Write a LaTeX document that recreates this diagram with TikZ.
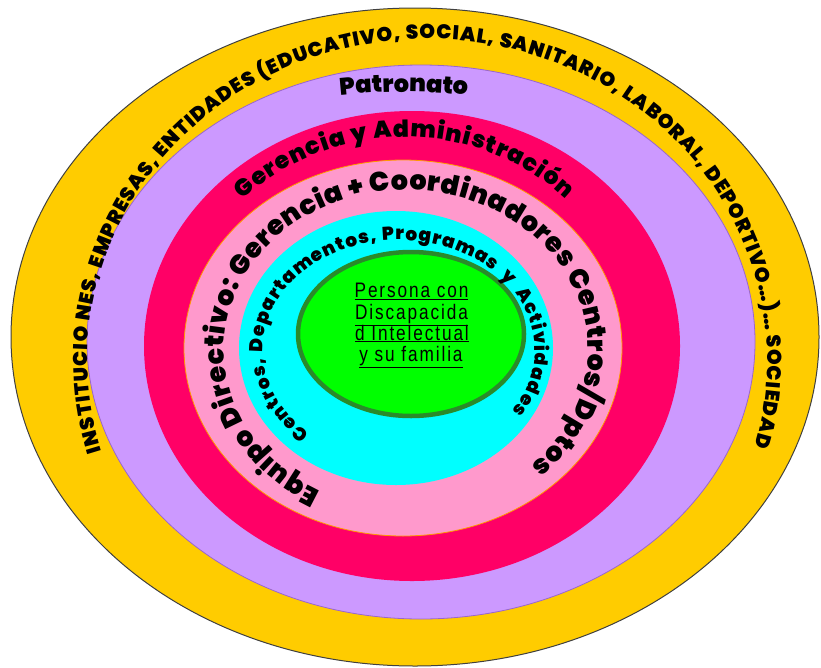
\documentclass[tikz,border=0pt]{standalone}
\usepackage{fontspec}
\usetikzlibrary{decorations.text}
\IfFontExistsTF{Poppins Black}
  {\newfontface\arcfont{Poppins Black}}
  {\IfFontExistsTF{Fira Sans Heavy}
     {\newfontface\arcfont{Fira Sans Heavy}}
     {\newfontface\arcfont{DejaVu Sans Bold}}}
\newfontfamily\narrowfont{Liberation Sans}[FakeStretch=0.82, LetterSpace=9]
\definecolor{cyellow}{HTML}{FFCC00}
\definecolor{cpurple}{HTML}{CC99FF}
\definecolor{cpurpleline}{HTML}{9966CC}
\definecolor{cred}{HTML}{FF0066}
\definecolor{cpink}{HTML}{FF99CC}
\definecolor{corange}{HTML}{FF9900}
\definecolor{ccyan}{HTML}{00FFFF}
\definecolor{cgreen}{HTML}{00FF00}
\definecolor{cgreenline}{HTML}{2A8A2A}
\begin{document}
\begin{tikzpicture}[x=1pt,y=-1pt,
  centerline/.style={anchor=base, inner sep=0pt, font=\narrowfont\fontsize{21}{23}\selectfont}]
\useasboundingbox (0,0) rectangle (821,667);
% rings
\fill[cyellow, draw=black!75, line width=1pt] (415,337) ellipse [x radius=404, y radius=329];
\fill[cpurple, draw=cpurpleline, line width=0.8pt] (421,342) ellipse [x radius=334, y radius=277];
\fill[cred] (412,346) ellipse [x radius=268, y radius=235];
\fill[cpink, draw=corange, line width=0.8pt] (403,348) ellipse [x radius=219, y radius=188];
\fill[ccyan] (396,348) ellipse [x radius=157, y radius=137];
\fill[cgreen, draw=cgreenline, line width=4.5pt] (411,334) ellipse [x radius=113, y radius=82];
% outer text
\path[decorate, decoration={text along path, text align=fit to path,
  text={|\arcfont\fontsize{20}{22}\selectfont|INSTITUCIO NES, EMPRESAS, ENTIDADES (EDUCATIVO, SOCIAL, SANITARIO, LABORAL, DEPORTIVO…)… SOCIEDAD}}]
  (427.5,360) ++(163.5:340 and 321) arc[start angle=163.5, end angle=375.7, x radius=340, y radius=321];
% Patronato
\path[decorate, decoration={text along path, text align=center,
  text={|\arcfont\fontsize{24}{26}\selectfont|Patronato}}]
  (404,692) ++(250:600) arc[start angle=250, end angle=290, radius=600];
% Gerencia y Administracion
\path[decorate, decoration={text along path, text align=fit to path,
  text={|\arcfont\fontsize{23.5}{26}\selectfont|Gerencia y Administración}}]
  (405,348) ++(224.5:227 and 211) arc[start angle=224.5, end angle=315.2, x radius=227, y radius=211];
% Equipo Directivo
\path[decorate, decoration={text along path, text align=fit to path,
  text={|\arcfont\fontsize{27}{29}\selectfont|Equipo Directivo: Gerencia + Coordinadores Centros/Dptos}}]
  (406,350) ++(118.1:182 and 160) arc[start angle=118.1, end angle=406.6, x radius=182, y radius=160];
% Centros
\path[decorate, decoration={text along path, text align=fit to path,
  text={|\arcfont\fontsize{18.5}{21}\selectfont|Centros, Departamentos, Programas{\kern7pt}y{\kern7pt}Actividades}}]
  (399,350) ++(131:136 and 110) arc[start angle=131, end angle=393.8, x radius=136, y radius=110];
% center text
\node[centerline] (l1) at (411.5,297.5) {\underline{Persona con}};
\node[centerline] (l2) at (411.5,319) {\underline{Discapacida}};
\node[centerline] (l3) at (412,340) {\underline{d Intelectual}};
\node[centerline] (l4) at (411,361.5) {\underline{y su familia}};
\end{tikzpicture}
\end{document}
